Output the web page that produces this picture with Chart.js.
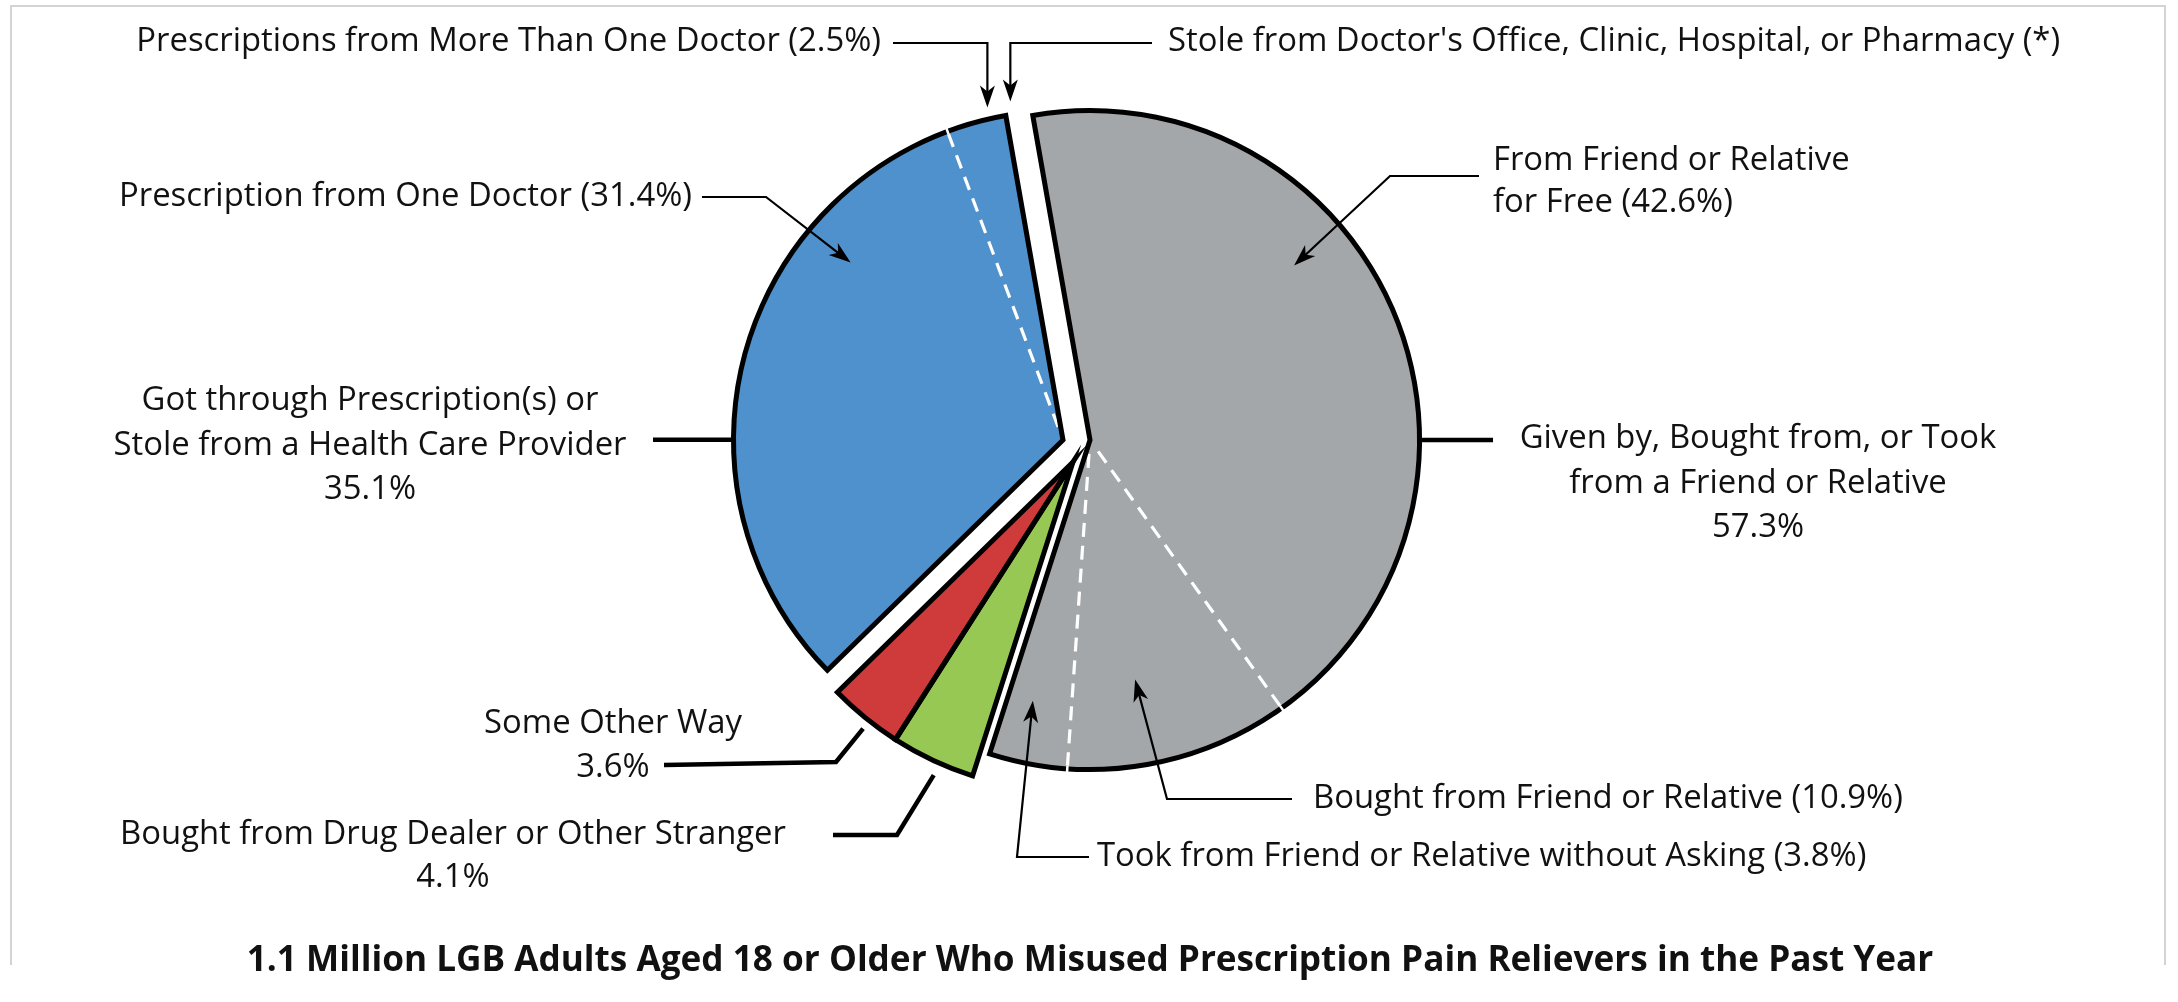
<!DOCTYPE html>
<html>
<head>
<meta charset="utf-8">
<title>Misused Prescription Pain Relievers</title>
<script src="https://cdn.jsdelivr.net/npm/chart.js"></script>
<style>
html, body { margin: 0; padding: 0; background: #fff; }
#wrap { position: relative; width: 2178px; height: 1002px; overflow: hidden; }
#frame { position: absolute; left: 10px; top: 5px; width: 2156px; height: 960px;
	border: 2px solid #d4d4d4; border-bottom: none; box-sizing: border-box; }
#chart { position: absolute; left: 0; top: 0; }
</style>
</head>
<body>
<div id="wrap">
	<div id="frame"></div>
	<canvas id="chart" width="2178" height="1002"></canvas>
</div>
<script>
var sliceLabels = [
	"From Friend or Relative for Free",
	"Bought from Friend or Relative",
	"Took from Friend or Relative without Asking",
	"Bought from Drug Dealer or Other Stranger",
	"Some Other Way",
	"Prescription from One Doctor",
	"Prescriptions from More Than One Doctor",
	"Stole from Doctor's Office, Clinic, Hospital, or Pharmacy"
];
var sliceValues = [42.6, 10.9, 3.8, 4.1, 3.6, 31.4, 2.5, 0.4];
var sliceGroups = ["friend", "friend", "friend", "stranger", "other", "provider", "provider", "provider"];
var suppressed = [false, false, false, false, false, false, false, true];

var groupLabels = {
	friend: ["Given by, Bought from, or Took", "from a Friend or Relative"],
	provider: ["Got through Prescription(s) or", "Stole from a Health Care Provider"]
};
var groupTotals = { friend: 57.3, provider: 35.1 };

var titleText = "1.1 Million LGB Adults Aged 18 or Older Who Misused Prescription Pain Relievers in the Past Year";

var groupColors = { friend: "#a4a7aa", provider: "#4f91cd", other: "#cf3a3a", stranger: "#97c853" };
var groupShift = { friend: [14, -1], provider: [-13, -1], other: [-3, 21], stranger: [-3, 21] };
var outlineOrder = ["friend", "provider", "other", "stranger"];

function pct(i) {
	return suppressed[i] ? "*" : sliceValues[i].toFixed(1) + "%";
}

function sliceText(i) {
	return sliceLabels[i] + " (" + pct(i) + ")";
}

var FONT = '"Open Sans", "Noto Sans", sans-serif';
var TEXT_COLOR = "#111111";

var callouts = [
	{ lines: [sliceText(6)], x: 881, y: 42, align: "right",
		path: [[893, 43]], drop: true, target: { i: 6, t: 0.85, r: 1.035 }, arrow: true },
	{ lines: [sliceText(7)], x: 1168, y: 42, align: "left",
		path: [[1152, 43]], drop: true, target: { i: 7, t: 1.8, r: 1.04 }, arrow: true },
	{ lines: [sliceText(5)], x: 692, y: 197, align: "right",
		path: [[702, 197], [766, 197]], target: { i: 5, t: 0.74, r: 0.84 }, arrow: true },
	{ lines: groupLabels.provider.concat([groupTotals.provider.toFixed(1) + "%"]), x: 370, y: 401, step: 44.5, align: "center",
		hFrom: 653, target: { i: 5, t: 0.39, r: 1.0 }, thick: true },
	{ lines: ["From Friend or Relative", "for Free (" + pct(0) + ")"], x: 1493, y: 161, step: 42, align: "left",
		path: [[1479, 176], [1390, 176]], target: { i: 0, t: 0.385, r: 0.815 }, arrow: true },
	{ lines: groupLabels.friend.concat([groupTotals.friend.toFixed(1) + "%"]), x: 1758, y: 439, step: 44.5, align: "center",
		hFrom: 1493, target: { i: 0, t: 0.6475, r: 1.0 }, thick: true },
	{ lines: [sliceText(1)], x: 1313, y: 799, align: "left",
		path: [[1292, 799], [1167, 799]], target: { i: 1, t: 0.63, r: 0.74 }, arrow: true },
	{ lines: [sliceText(2)], x: 1097, y: 857, align: "left",
		path: [[1089, 857], [1017, 857]], target: { i: 2, t: 0.61, r: 0.81 }, arrow: true },
	{ lines: [sliceLabels[4], pct(4)], x: 613, y: 724, step: 44, align: "center",
		path: [[664, 765], [836, 762]], target: { i: 4, t: 0.43, r: 1.03 }, thick: true },
	{ lines: [sliceLabels[3], pct(3)], x: 453, y: 835, step: 43, align: "center",
		path: [[833, 835], [897, 835]], target: { i: 3, t: 0.42, r: 1.04 }, thick: true }
];

function slicePoint(chart, i, t, rf) {
	var el = chart.getDatasetMeta(0).data[i];
	var a = el.startAngle + t * (el.endAngle - el.startAngle);
	var r = el.outerRadius * rf;
	return [el.x + r * Math.cos(a), el.y + r * Math.sin(a)];
}

function fitSize(ctx, text, weight, target) {
	ctx.font = weight + " 100px " + FONT;
	return 100 * target / ctx.measureText(text).width;
}

var shiftPlugin = {
	id: "groupShift",
	afterDatasetsUpdate: function(chart) {
		var area = chart.chartArea;
		var cx = (area.left + area.right) / 2;
		var cy = (area.top + area.bottom) / 2;
		chart.getDatasetMeta(0).data.forEach(function(el, i) {
			var s = groupShift[sliceGroups[i]];
			el.x = cx + s[0];
			el.y = cy + s[1];
		});
	}
};

var outlinePlugin = {
	id: "groupOutline",
	afterDatasetsDraw: function(chart) {
		var ctx = chart.ctx;
		var arcs = chart.getDatasetMeta(0).data;
		ctx.save();
		// white dashed separators inside a group
		for (var i = 1; i < arcs.length; i++) {
			var el = arcs[i];
			if (sliceGroups[i] !== sliceGroups[i - 1]) continue;
			if (el.endAngle - el.startAngle < 0.035) continue;
			var a = el.startAngle;
			var R = el.outerRadius;
			ctx.strokeStyle = "#ffffff";
			ctx.lineWidth = 3.2;
			ctx.setLineDash([14, 9]);
			ctx.beginPath();
			ctx.moveTo(el.x + 14 * Math.cos(a), el.y + 14 * Math.sin(a));
			ctx.lineTo(el.x + (R - 3) * Math.cos(a), el.y + (R - 3) * Math.sin(a));
			ctx.stroke();
		}
		ctx.setLineDash([]);
		outlineOrder.forEach(function(g) {
			var idx = [];
			sliceGroups.forEach(function(s, i) { if (s === g) idx.push(i); });
			var first = arcs[idx[0]];
			var last = arcs[idx[idx.length - 1]];
			ctx.beginPath();
			ctx.moveTo(first.x, first.y);
			ctx.arc(first.x, first.y, first.outerRadius, first.startAngle, last.endAngle);
			ctx.closePath();
			ctx.lineWidth = 5;
			ctx.lineJoin = "miter";
			ctx.miterLimit = 10;
			ctx.strokeStyle = "#000000";
			ctx.stroke();
		});
		// small break in the rim where a separator meets it
		for (var j = 1; j < arcs.length; j++) {
			var e = arcs[j];
			if (sliceGroups[j] !== sliceGroups[j - 1]) continue;
			if (e.endAngle - e.startAngle < 0.035) continue;
			var b = e.startAngle;
			ctx.strokeStyle = "#ffffff";
			ctx.lineWidth = 2.5;
			ctx.beginPath();
			ctx.moveTo(e.x + (e.outerRadius - 3) * Math.cos(b), e.y + (e.outerRadius - 3) * Math.sin(b));
			ctx.lineTo(e.x + (e.outerRadius + 3.5) * Math.cos(b), e.y + (e.outerRadius + 3.5) * Math.sin(b));
			ctx.stroke();
		}
		ctx.restore();
	}
};

function drawArrowHead(ctx, from, tip) {
	var ang = Math.atan2(tip[1] - from[1], tip[0] - from[0]);
	var len = 22, half = 7.5;
	ctx.beginPath();
	ctx.moveTo(tip[0], tip[1]);
	ctx.lineTo(tip[0] - len * Math.cos(ang) + half * Math.sin(ang), tip[1] - len * Math.sin(ang) - half * Math.cos(ang));
	ctx.lineTo(tip[0] - 0.72 * len * Math.cos(ang), tip[1] - 0.72 * len * Math.sin(ang));
	ctx.lineTo(tip[0] - len * Math.cos(ang) - half * Math.sin(ang), tip[1] - len * Math.sin(ang) + half * Math.cos(ang));
	ctx.closePath();
	ctx.fill();
}

var calloutPlugin = {
	id: "callouts",
	afterDraw: function(chart) {
		var ctx = chart.ctx;
		ctx.save();
		var size = fitSize(ctx, sliceText(6), "normal", 745);
		var titleSize = fitSize(ctx, titleText, "bold", 1687);
		ctx.strokeStyle = "#000000";
		ctx.fillStyle = "#000000";
		ctx.lineJoin = "miter";
		callouts.forEach(function(c) {
			var tip = slicePoint(chart, c.target.i, c.target.t, c.target.r);
			var pts = [];
			if (c.hFrom !== undefined) {
				pts.push([c.hFrom, tip[1]]);
			} else {
				pts = c.path.slice();
				if (c.drop) pts.push([tip[0], pts[0][1]]);
			}
			pts.push(tip);
			var prev = pts[pts.length - 2];
			var end = tip;
			if (c.arrow) {
				var ang = Math.atan2(tip[1] - prev[1], tip[0] - prev[0]);
				end = [tip[0] - 15 * Math.cos(ang), tip[1] - 15 * Math.sin(ang)];
			}
			ctx.lineWidth = c.thick ? 4.5 : 2.2;
			ctx.beginPath();
			ctx.moveTo(pts[0][0], pts[0][1]);
			for (var k = 1; k < pts.length - 1; k++) ctx.lineTo(pts[k][0], pts[k][1]);
			ctx.lineTo(end[0], end[1]);
			ctx.stroke();
			if (c.arrow) drawArrowHead(ctx, prev, tip);
		});
		ctx.fillStyle = TEXT_COLOR;
		ctx.textBaseline = "middle";
		ctx.font = "normal " + size.toFixed(2) + "px " + FONT;
		callouts.forEach(function(c) {
			ctx.textAlign = c.align;
			c.lines.forEach(function(line, n) {
				ctx.fillText(line, c.x, c.y + n * (c.step || 0));
			});
		});
		ctx.font = "bold " + titleSize.toFixed(2) + "px " + FONT;
		ctx.textAlign = "center";
		ctx.fillText(titleText, 1090, 961);
		ctx.restore();
	}
};

var colors = sliceGroups.map(function(g) { return groupColors[g]; });

new Chart(document.getElementById("chart").getContext("2d"), {
	type: "pie",
	data: {
		labels: sliceLabels,
		datasets: [{
			data: sliceValues,
			backgroundColor: colors,
			borderColor: colors,
			borderWidth: 1
		}]
	},
	options: {
		responsive: false,
		maintainAspectRatio: false,
		animation: false,
		rotation: -10,
		layout: { padding: { left: 746, right: 772, top: 111, bottom: 231 } },
		plugins: {
			legend: { display: false },
			tooltip: { enabled: false }
		}
	},
	plugins: [shiftPlugin, outlinePlugin, calloutPlugin]
});
</script>
</body>
</html>
